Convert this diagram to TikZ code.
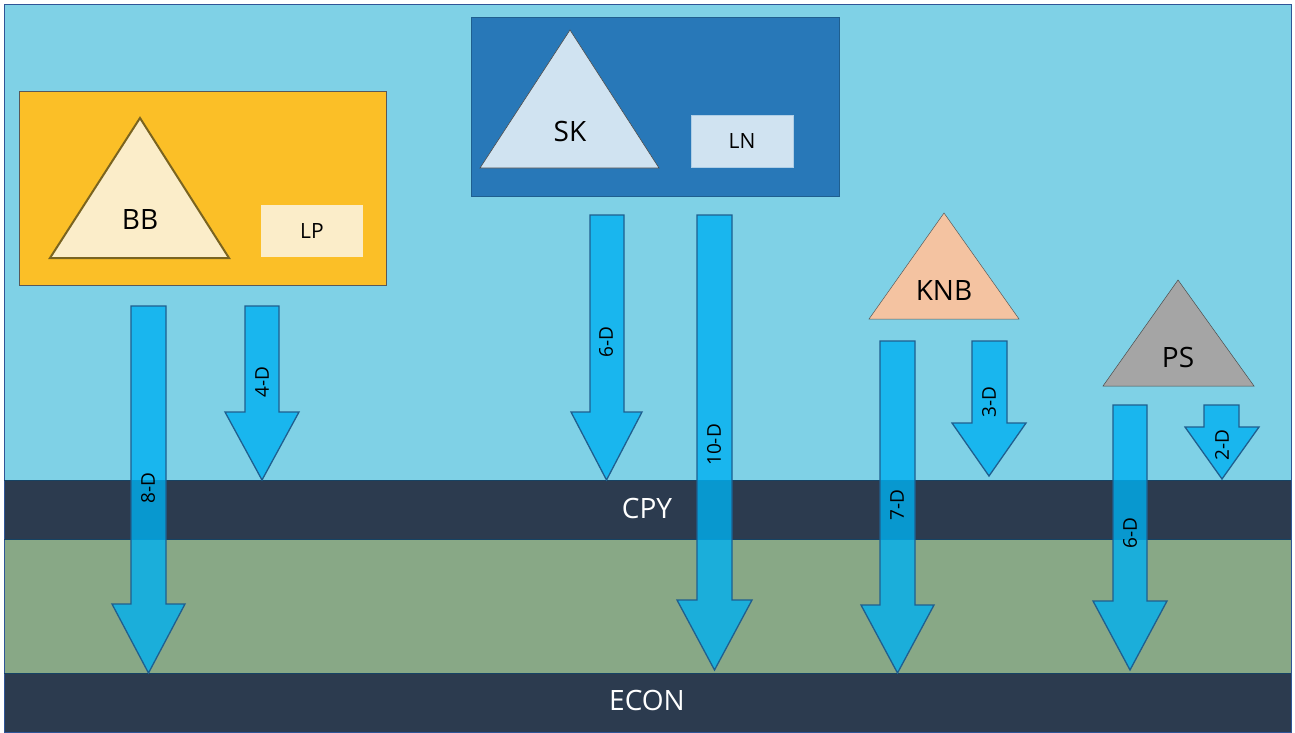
\documentclass[tikz,border=0pt]{standalone}
\usepackage{fontspec}
\setmainfont{Open Sans}
\definecolor{bgblue}{RGB}{127,209,230}
\definecolor{band}{RGB}{44,59,79}
\definecolor{grn}{RGB}{136,168,134}
\definecolor{orng}{RGB}{251,191,39}
\definecolor{cream}{RGB}{251,237,201}
\definecolor{skbox}{RGB}{40,120,184}
\definecolor{sklight}{RGB}{208,227,241}
\definecolor{knbc}{RGB}{244,195,161}
\definecolor{psc}{RGB}{165,165,165}
\definecolor{arrf}{RGB}{0,176,240}
\definecolor{arrd}{RGB}{31,95,143}
\definecolor{frame}{RGB}{47,85,151}
\definecolor{bbline}{RGB}{122,100,32}
\tikzset{
  arrowbody/.style={fill=arrf, fill opacity=0.8, draw=arrd, line width=1.3pt, line join=miter},
  dlabel/.style={rotate=90, inner sep=0pt, font=\fontsize{19}{20}\selectfont, text=black},
  biglabel/.style={inner sep=0pt, font=\fontsize{28}{30}\selectfont, text=black},
  smalllabel/.style={inner sep=0pt, font=\fontsize{21}{22}\selectfont, text=black},
  bandlabel/.style={inner sep=0pt, font=\fontsize{28}{30}\selectfont, text=white},
}
\newcommand\darrow[7]{%
  \draw[arrowbody] (#1,#3) -- (#2,#3) -- (#2,#4) -- (#6,#4) -- ({(#5+#6)/2},#7) -- (#5,#4) -- (#1,#4) -- cycle;}
\begin{document}
\begin{tikzpicture}[x=1pt,y=-1pt]
\useasboundingbox (0,0) rectangle (1295,733);
\fill[white] (0,0) rectangle (1295,733);
% background layers
\fill[bgblue] (4,5) rectangle (1291,480);
\fill[band] (4,480) rectangle (1291,539);
\fill[grn] (4,539) rectangle (1291,673);
\fill[band] (4,673) rectangle (1291,732);
\draw[frame, line width=1pt] (4,5) rectangle (1291,732);
\draw[arrd!70!black, line width=0.6pt] (4,480) -- (1291,480) (4,539) -- (1291,539) (4,673) -- (1291,673);
\node[bandlabel] (cpy) at (647,508) {CPY};
\node[bandlabel] (econ) at (647,700) {ECON};
% BB group
\draw[fill=orng, draw=gray!70!black, line width=0.6pt] (19,91) rectangle (386,285);
\draw[fill=cream, draw=bbline, line width=2pt, line join=miter] (140,118) -- (229,258) -- (50,258) -- cycle;
\node[biglabel] (bb) at (140,220) {BB};
\fill[cream] (261,205) rectangle (363,257);
\node[smalllabel] (lp) at (312,231) {LP};
% SK group
\draw[fill=skbox, draw=arrd, line width=0.6pt] (471,17) rectangle (839,196);
\draw[fill=sklight, draw=gray!60!black, line width=0.6pt] (570,30) -- (659,168) -- (480,168) -- cycle;
\node[biglabel] (sk) at (570,131) {SK};
\draw[fill=sklight, draw=sklight!80!skbox, line width=0.6pt] (691,115) rectangle (793,167);
\node[smalllabel] (ln) at (742,141) {LN};
% KNB
\draw[fill=knbc, draw=gray!70!black, line width=0.5pt] (944,213) -- (1019,319) -- (869,319) -- cycle;
\node[biglabel] (knb) at (944,291) {KNB};
% PS
\draw[fill=psc, draw=gray!60!black, line width=0.5pt] (1178,280) -- (1254,386) -- (1103,386) -- cycle;
\node[biglabel] (ps) at (1178,357) {PS};
% arrows
\darrow{131}{166}{306}{604}{112}{185}{673}
\node[dlabel] (a8) at (148,488) {8-D};
\darrow{245}{279}{306}{412}{225}{299}{480}
\node[dlabel] (a4) at (262,382) {4-D};
\darrow{590}{624}{215}{412}{571}{642}{480}
\node[dlabel] (a6a) at (606,342) {6-D};
\darrow{697}{732}{215}{600}{677}{752}{670}
\node[dlabel] (a10) at (714,445) {10-D};
\darrow{880}{915}{341}{605}{861}{934}{673}
\node[dlabel] (a7) at (897,505) {7-D};
\darrow{972}{1007}{341}{423}{952}{1026}{476}
\node[dlabel] (a3) at (989,402) {3-D};
\darrow{1113}{1147}{405}{601}{1093}{1167}{670}
\node[dlabel] (a6b) at (1130,533) {6-D};
\darrow{1204}{1239}{405}{427}{1185}{1259}{479}
\node[dlabel] (a2) at (1222,445) {2-D};
\end{tikzpicture}
\end{document}
